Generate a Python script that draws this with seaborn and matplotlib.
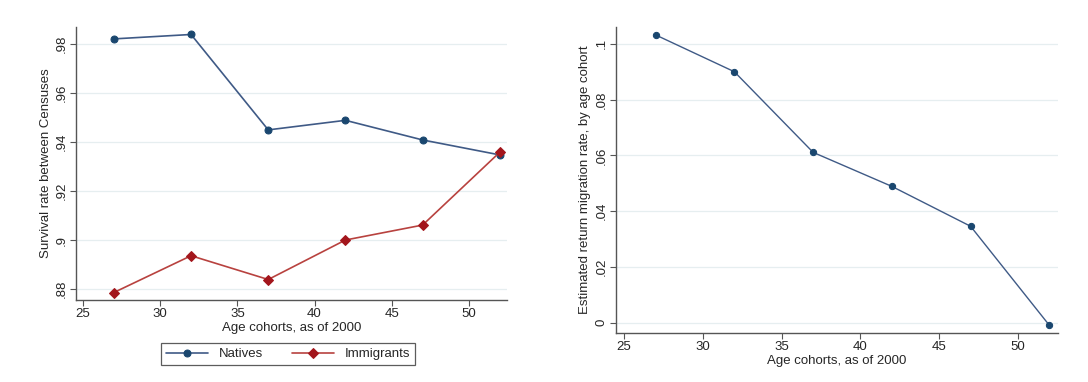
import matplotlib
matplotlib.use("Agg")
import matplotlib.pyplot as plt
import pandas as pd
import seaborn as sns

# Data
ages = [27, 32, 37, 42, 47, 52]
natives = [0.9820, 0.9838, 0.9449, 0.9488, 0.9408, 0.9347]
immigrants = [0.8786, 0.8936, 0.8839, 0.9000, 0.9061, 0.9358]
return_rate = [0.1032, 0.0900, 0.0611, 0.0489, 0.0346, -0.0009]

x_ticks = [25, 30, 35, 40, 45, 50]
left_yticks = [0.88, 0.90, 0.92, 0.94, 0.96, 0.98]
left_ylabels = [".88", ".9", ".92", ".94", ".96", ".98"]
right_yticks = [0.0, 0.02, 0.04, 0.06, 0.08, 0.10]
right_ylabels = ["0", ".02", ".04", ".06", ".08", ".1"]

navy = "#1a476f"
navy_line = "#3f5a86"
maroon = "#a3161c"
maroon_line = "#b8423f"
grid_col = "#e6eef0"
axis_col = "#555555"

sns.set_style("white")
plt.rcParams['font.family'] = ['Liberation Sans', 'DejaVu Sans']

df_left = pd.DataFrame({"age": ages, "Natives": natives, "Immigrants": immigrants})
df_right = pd.DataFrame({"age": ages, "rate": return_rate})

fig = plt.figure(figsize=(10.88, 3.82), dpi=100)
ax1 = fig.add_axes([0.0699, 0.215, 0.396, 0.714])
ax2 = fig.add_axes([0.566, 0.128, 0.406, 0.801])

# Left panel
sns.lineplot(data=df_left, x="age", y="Natives", ax=ax1, color=navy_line, lw=1.2,
             marker="o", markersize=5, markerfacecolor=navy, markeredgecolor=navy,
             label="Natives")
sns.lineplot(data=df_left, x="age", y="Immigrants", ax=ax1, color=maroon_line, lw=1.2,
             marker="D", markersize=5, markerfacecolor=maroon, markeredgecolor=maroon,
             label="Immigrants")
ax1.set_xlim(24.55, 52.46)
ax1.set_ylim(0.8756, 0.9868)
ax1.set_yticks(left_yticks)
ax1.set_yticklabels(left_ylabels, rotation=90, va="center")
ax1.set_ylabel("Survival rate between Censuses", fontsize=9.5, labelpad=3)
ax1.set_xlabel("Age cohorts, as of 2000", fontsize=9.5, labelpad=1)
leg = ax1.legend(loc="upper center", bbox_to_anchor=(0.492, -0.135), ncol=2,
                 frameon=True, fancybox=False, fontsize=9.5, handlelength=3.2,
                 columnspacing=2.2, borderpad=0.35)
leg.get_frame().set_edgecolor("#333333")
leg.get_frame().set_linewidth(0.9)

# Right panel
sns.lineplot(data=df_right, x="age", y="rate", ax=ax2, color=navy_line, lw=1.0,
             marker="o", markersize=4.5, markerfacecolor=navy, markeredgecolor=navy)
ax2.set_xlim(24.47, 52.52)
ax2.set_ylim(-0.0037, 0.106)
ax2.set_yticks(right_yticks)
ax2.set_yticklabels(right_ylabels, rotation=90, va="center")
ax2.set_ylabel("Estimated return migration rate, by age cohort", fontsize=9.5, labelpad=3)
ax2.set_xlabel("Age cohorts, as of 2000", fontsize=9.5, labelpad=1)

for ax in (ax1, ax2):
    ax.set_xticks(x_ticks)
    ax.grid(axis="y", color=grid_col, lw=0.9)
    ax.set_axisbelow(True)
    sns.despine(ax=ax)
    for s in ("left", "bottom"):
        ax.spines[s].set_color(axis_col)
        ax.spines[s].set_linewidth(1.0)
    ax.tick_params(axis="both", direction="out", length=4, width=0.8, color=axis_col,
                   labelsize=9.5, pad=2, left=True, bottom=True)

fig.savefig("out.png", dpi=100)
